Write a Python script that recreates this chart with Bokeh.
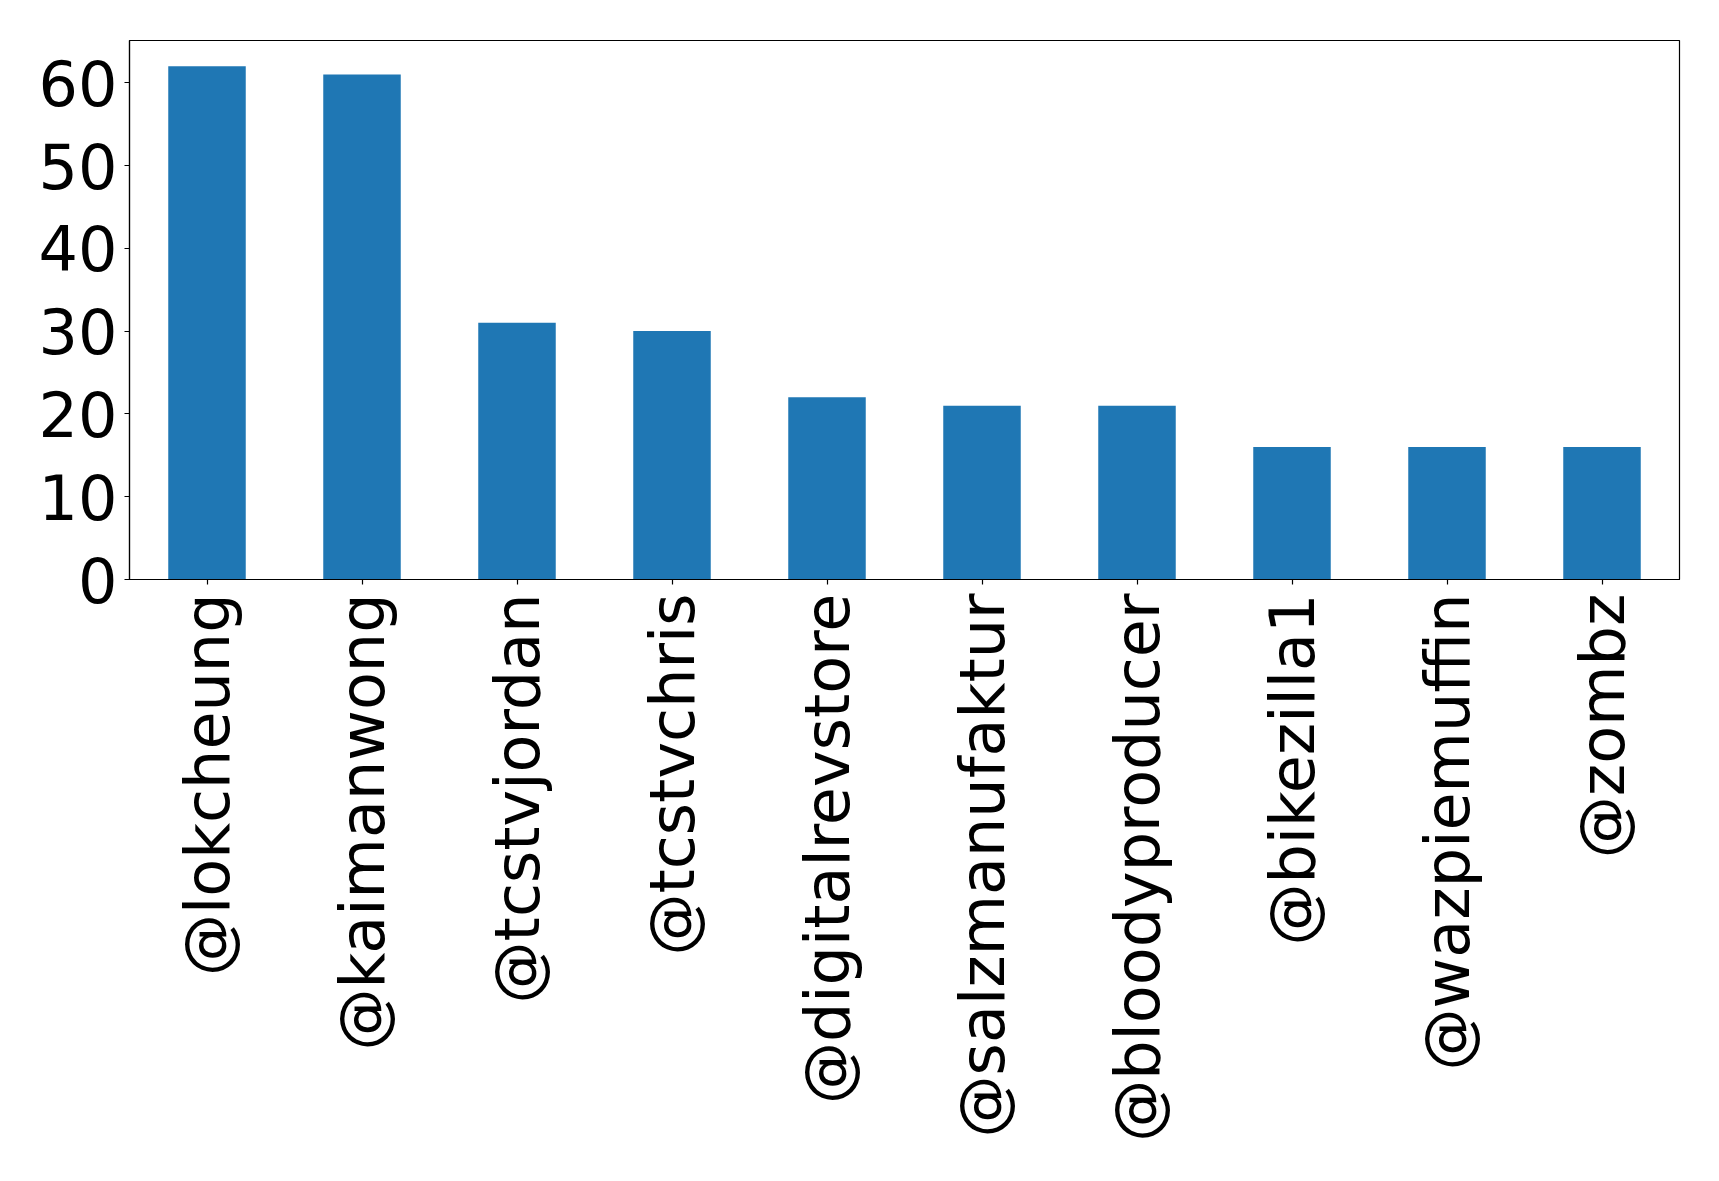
from math import pi

from bokeh.embed import file_html
from bokeh.models import FactorRange, FixedTicker, Range1d
from bokeh.plotting import figure
from bokeh.resources import INLINE

# Top mentioned accounts and how often each was mentioned
accounts = [
    "@lokcheung", "@kaimanwong", "@tcstvjordan", "@tcstvchris",
    "@digitalrevstore", "@salzmanufaktur", "@bloodyproducer",
    "@bikezilla1", "@wazpiemuffin", "@zombz",
]
mentions = [62, 61, 31, 30, 22, 21, 21, 16, 16, 16]
y_ticks = [0, 10, 20, 30, 40, 50, 60]

FONT = "DejaVu Sans"
FONT_SIZE = "62px"

p = figure(
    width=1719,
    height=1181,
    x_range=FactorRange(*accounts),
    y_range=Range1d(0, max(mentions) * 1.05),
    output_backend="svg",
    toolbar_location=None,
    min_border_left=129,
    min_border_right=40,
    min_border_top=40,
    min_border_bottom=602,
)

p.vbar(x=accounts, top=mentions, width=0.5, color="#1f77b4", line_color=None)

p.background_fill_color = "white"
p.border_fill_color = "white"
p.outline_line_color = "black"
p.outline_line_width = 1.2
p.xgrid.visible = False
p.ygrid.visible = False

p.yaxis.ticker = FixedTicker(ticks=y_ticks)
p.yaxis.minor_tick_line_color = None

for ax in (p.xaxis, p.yaxis):
    ax.axis_line_color = "black"
    ax.axis_line_width = 1.2
    ax.major_tick_line_color = "black"
    ax.major_tick_line_width = 1.2
    ax.major_tick_out = 5
    ax.major_tick_in = 0
    ax.major_label_text_font = FONT
    ax.major_label_text_font_size = FONT_SIZE
    ax.major_label_text_color = "black"
    ax.major_label_standoff = 7

p.xaxis.major_label_orientation = pi / 2
p.xaxis.major_label_standoff = 9

with open("out.html", "w") as f:
    f.write(file_html(p, INLINE))
